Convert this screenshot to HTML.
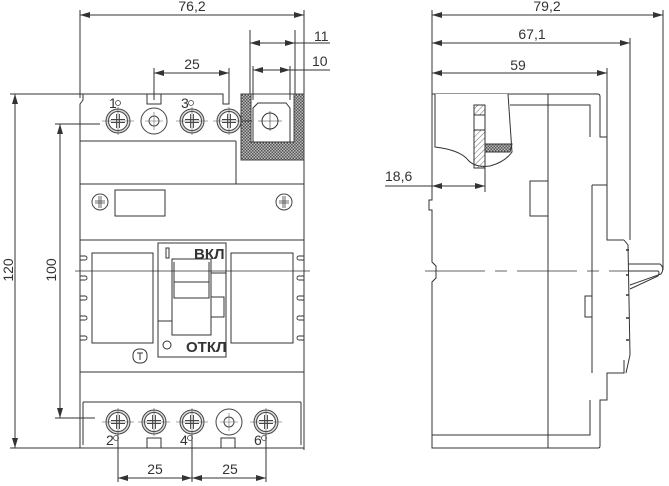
<!DOCTYPE html>
<html><head><meta charset="utf-8"><style>
html,body{margin:0;padding:0;background:#fff;}
svg{display:block;}
text{font-family:"Liberation Sans",sans-serif;fill:#333;}
</style></head><body>
<svg width="669" height="486" viewBox="0 0 669 486" xmlns="http://www.w3.org/2000/svg">
<defs>
<pattern id="h" width="4" height="4" patternUnits="userSpaceOnUse" patternTransform="rotate(45)"><line x1="0" y1="0" x2="0" y2="4" stroke="#444" stroke-width="0.8"/></pattern>
<pattern id="x" width="3" height="3" patternUnits="userSpaceOnUse"><rect width="3" height="3" fill="#bbb"/><rect width="1.5" height="1.5" fill="#555"/><rect x="1.5" y="1.5" width="1.5" height="1.5" fill="#555"/></pattern>
<marker id="a" viewBox="0 0 10 6" refX="10" refY="3" markerWidth="10" markerHeight="6" orient="auto-start-reverse" markerUnits="userSpaceOnUse"><path d="M0,0L10,3L0,6z" fill="#333"/></marker>
<g id="scr"><circle r="12" fill="#ddd" stroke="#444"/><circle r="9.5" fill="#fff" stroke="#444"/><path d="M-7,-1.5H7M-7,1.5H7M-1.5,-7V7M1.5,-7V7" stroke="#444" fill="none" stroke-width="0.9"/><path d="M-16,0H16M0,-14V14" stroke="#555" stroke-width="0.6"/></g>
<g id="nut"><circle r="13" fill="#fff" stroke="#444"/><circle r="5" fill="none" stroke="#444"/><path d="M-9,0H9M0,-9V9" stroke="#666" stroke-width="0.6"/></g>
<g id="sm"><circle r="8" fill="#fff" stroke="#444"/><path d="M-5,-1H5M-5,1H5M-1,-6V6M1,-6V6" stroke="#444" stroke-width="0.8"/></g>
</defs>
<g stroke="#333" stroke-width="1" fill="none">
<!-- FRONT VIEW -->
<path d="M80,10V98M304,10V450"/>
<line x1="80" y1="15" x2="304" y2="15" marker-start="url(#a)" marker-end="url(#a)"/>
<!-- left dims -->
<path d="M10,94H85M10,448H80M55,124H100M55,418H95"/>
<line x1="15" y1="94" x2="15" y2="448" marker-start="url(#a)" marker-end="url(#a)"/>
<line x1="60" y1="124" x2="60" y2="418" marker-start="url(#a)" marker-end="url(#a)"/>
<!-- body -->
<path d="M83,94H223V104H229V90M147,94V104H161V94M83,94V100L80,104V141H83"/>
<path d="M83,141H236"/>
<rect x="80" y="184" width="224" height="56"/>
<rect x="80" y="240" width="224" height="132"/>
<path d="M80,372V448H304V372M83,402V445M301,402V445M83,402H301"/>
<path d="M80,141V184M236,141V184"/>
<!-- lug box -->
<path d="M241,94H304V160H241Z M251,94V142H294V94Z" fill="url(#x)" fill-rule="evenodd" stroke="#444"/>
<path d="M258,103H286L290,108V142H253V108Z" fill="#fff"/>
<circle cx="270" cy="121" r="8"/><path d="M258,121H282M270,111V131" stroke-width="0.6"/>
<path d="M250,30V94M295,30V94M253,66V100M290,66V100M241,116V121H252"/>
<line x1="250" y1="43" x2="295" y2="43" marker-start="url(#a)" marker-end="url(#a)"/>
<path d="M295,43H330M290,70H330"/>
<line x1="253" y1="70" x2="290" y2="70" marker-start="url(#a)" marker-end="url(#a)"/>
<path d="M154,68V100M229,68V104"/>
<line x1="154" y1="73" x2="229" y2="73" marker-start="url(#a)" marker-end="url(#a)"/>
<!-- middle section -->
<rect x="115" y="190" width="50" height="26"/>
<!-- main section -->
<rect x="92" y="253" width="61" height="90"/>
<rect x="231" y="253" width="62" height="90"/>
<rect x="158" y="243" width="68" height="114"/>
<rect x="166" y="248" width="3" height="10"/>
<rect x="172" y="259" width="39" height="76"/>
<path d="M174,262V298H209V262M174,282H209M158,321H172M211,297H224V317H211M211,273H226"/>
<circle cx="167" cy="345" r="4"/>
<rect x="133" y="349" width="14" height="14" rx="6"/>
<path d="M137,353H143M140,353V360"/>
<g stroke-width="0.9">
<path d="M80,256h5a2,2 0 0 1 0,4h-5M80,276h5a2,2 0 0 1 0,4h-5M80,296h5a2,2 0 0 1 0,4h-5M80,316h5a2,2 0 0 1 0,4h-5M80,336h5a2,2 0 0 1 0,4h-5"/>
<path d="M304,256h-5a2,2 0 0 0 0,4h5M304,276h-5a2,2 0 0 0 0,4h5M304,296h-5a2,2 0 0 0 0,4h5M304,316h-5a2,2 0 0 0 0,4h5M304,336h-5a2,2 0 0 0 0,4h5"/>
</g>
<path d="M75,271H310" stroke-width="0.8"/>
<!-- bottom notches -->
<path d="M147,448V438H161V448M221,448V438H235V448"/>
<!-- bottom dims -->
<path d="M118,422V482M192,422V482M266,422V482"/>
<line x1="118" y1="478" x2="192" y2="478" marker-start="url(#a)" marker-end="url(#a)"/>
<line x1="192" y1="478" x2="266" y2="478" marker-start="url(#a)" marker-end="url(#a)"/>

<!-- SIDE VIEW -->
<path d="M432,10V94M630,38V240M663,10V270M607,68V137"/>
<line x1="432" y1="15" x2="663" y2="15" marker-start="url(#a)" marker-end="url(#a)"/>
<line x1="432" y1="43" x2="630" y2="43" marker-start="url(#a)" marker-end="url(#a)"/>
<line x1="432" y1="73" x2="607" y2="73" marker-start="url(#a)" marker-end="url(#a)"/>
<path d="M432,94H598Q600,94 600,97V137H607V240H624M624,360V373H607V400H600V446Q600,448 598,448H432V282L436,278V266L432,262V210H429V200H432V94"/>
<path d="M432,435H590V400M510,105H590V137M592,185H607M592,185V373M548,94V448"/>
<path d="M624,240L628,245L630,355L626,373"/>
<path d="M628,264L660,264Q665,268 661,274L630,285" />
<path d="M628,271H658Q660,272 658,276L630,289"/>
<rect x="530" y="181" width="18" height="35"/>
<rect x="585" y="296" width="7" height="21"/>
<path d="M626,250h3M626,275h3M626,295h3M626,318h3M626,340h3" stroke-width="1.5"/>
<!-- cutaway -->
<path d="M435,94V147Q460,150 468,160Q475,168 490,166Q505,162 512,152L508,94" fill="#fff"/>
<rect x="474" y="105" width="11" height="10" fill="url(#h)"/>
<rect x="474" y="115" width="11" height="15" fill="#fff"/>
<rect x="474" y="130" width="11" height="38" fill="url(#h)"/>
<path d="M485,144H512L510,152H485Z" fill="url(#x)"/>
<path d="M485,168V192"/>
<path d="M385,186H432"/>
<line x1="432" y1="186" x2="485" y2="186" marker-start="url(#a)" marker-end="url(#a)"/>
<path d="M425,271H650" stroke-width="0.8" stroke-dasharray="60,10,12,10"/>
</g>
<use href="#scr" x="118" y="121"/><use href="#nut" x="154" y="121"/><use href="#scr" x="192" y="121"/><use href="#scr" x="229" y="121"/>
<use href="#scr" x="118" y="422"/><use href="#scr" x="154" y="422"/><use href="#scr" x="192" y="422"/><use href="#nut" x="229" y="422"/><use href="#scr" x="266" y="422"/>
<use href="#sm" x="100" y="202"/><use href="#sm" x="284" y="202"/>
<g fill="none" stroke="#444" stroke-width="0.8"><circle cx="118" cy="103" r="2.5"/><circle cx="191" cy="103" r="2.5"/><circle cx="116" cy="438" r="2.5"/><circle cx="190" cy="438" r="2.5"/><circle cx="264" cy="438" r="2.5"/></g>
<g font-size="14">
<text x="192" y="11" text-anchor="middle">76,2</text>
<text x="192" y="69" text-anchor="middle">25</text>
<text x="314" y="41">11</text>
<text x="312" y="66">10</text>
<text x="155" y="474" text-anchor="middle">25</text>
<text x="230" y="474" text-anchor="middle">25</text>
<text transform="translate(13,270) rotate(-90)" text-anchor="middle">120</text>
<text transform="translate(56,270) rotate(-90)" text-anchor="middle">100</text>
<text x="109" y="108">1</text><text x="181" y="108">3</text>
<text x="106" y="445">2</text><text x="180" y="445">4</text><text x="254" y="445">6</text>
<text x="547" y="11" text-anchor="middle">79,2</text>
<text x="532" y="39" text-anchor="middle">67,1</text>
<text x="518" y="70" text-anchor="middle">59</text>
<text x="385" y="181">18,6</text>
<text x="194" y="259" font-weight="bold" font-size="15">ВКЛ</text>
<text x="186" y="352" font-weight="bold" font-size="15">ОТКЛ</text>
</g>
</svg>
</body></html>
